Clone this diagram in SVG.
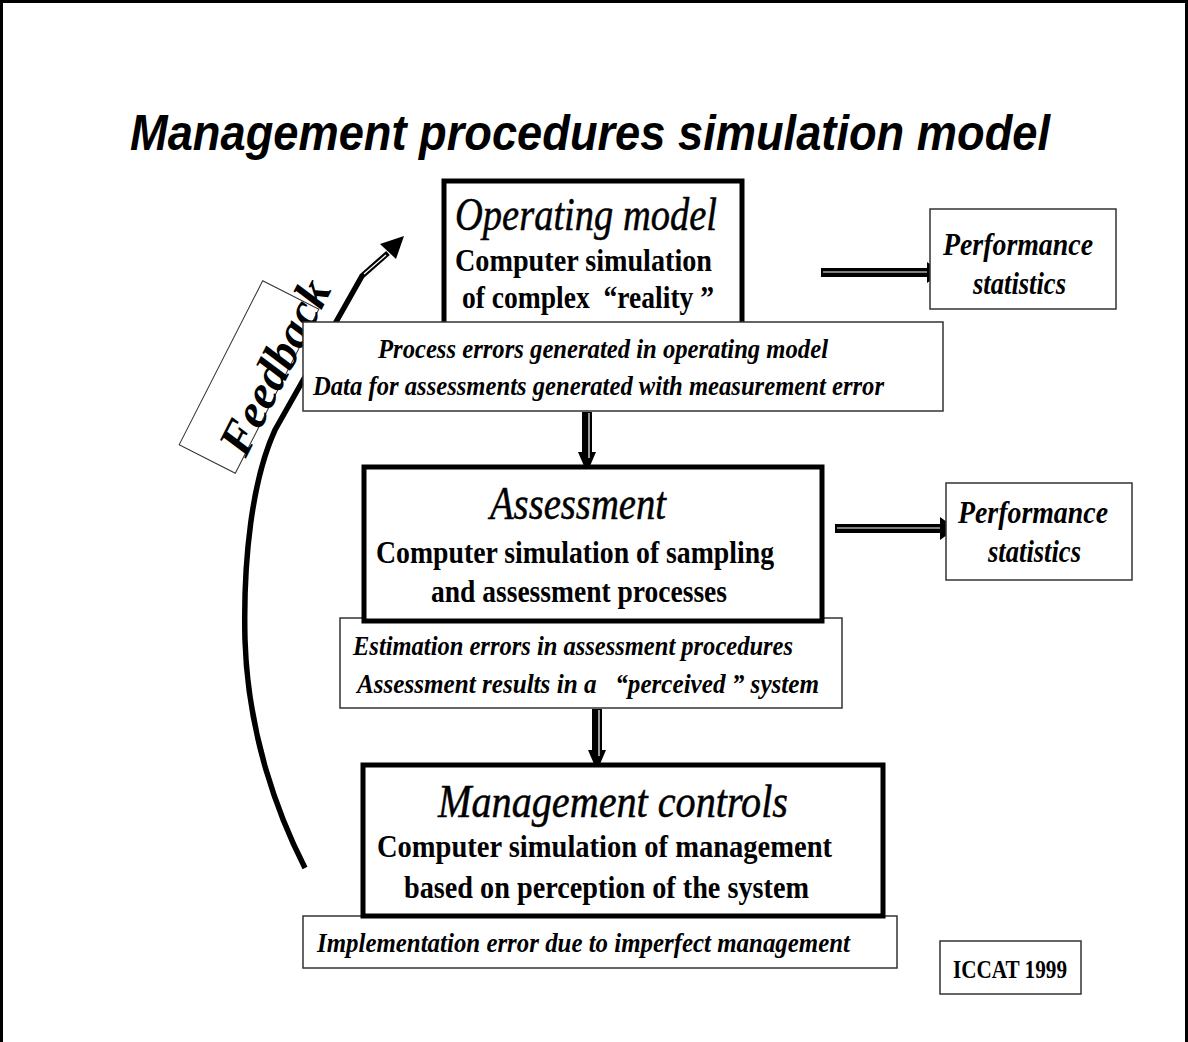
<svg xmlns="http://www.w3.org/2000/svg" width="1188" height="1042" viewBox="0 0 1188 1042">
<style>
.thick{fill:#fff;stroke:#000;stroke-width:5}
.thin{fill:#fff;stroke:#333;stroke-width:1.5}
.serif{font-family:"Liberation Serif","Times New Roman",serif;fill:#000}
.hd{font-size:46px;font-style:italic;stroke:#000;stroke-width:0.5}
.bd{font-size:32px;font-weight:bold}
.ei{font-size:28px;font-weight:bold;font-style:italic}
.ps{font-size:31px;font-weight:bold;font-style:italic}
.arr{fill:#000}
.hl{stroke:#fff;stroke-width:1.2}
</style>
<rect width="1188" height="1042" fill="#fff"/>
<path d="M1.5,1042 V1.5 H1186.5 V1042" fill="none" stroke="#000" stroke-width="3"/>
<g id="title">
<text x="130" y="150" textLength="920" lengthAdjust="spacingAndGlyphs" style="font-family:'Liberation Sans',Arial,sans-serif;font-size:50px;font-weight:bold;font-style:italic">Management procedures simulation model</text>
</g>
<g id="feedback-label">
<rect x="-92" y="-31.5" width="184" height="63" transform="translate(249,377) rotate(-63)" fill="none" stroke="#333" stroke-width="1"/>
<text class="serif" transform="translate(289,374) rotate(-63)" text-anchor="middle" textLength="190" lengthAdjust="spacingAndGlyphs" style="font-size:48px;font-weight:bold;font-style:italic">Feedback</text>
</g>
<g id="connectors">
<path d="M305,868 C278,815 248,735 245,640 C243,560 252,480 275,430 L362,276 L388,253" fill="none" stroke="#000" stroke-width="5.5"/>
<line x1="364" y1="274" x2="386" y2="255" class="hl"/>
<polygon points="404,236 396,259 380,244" class="arr"/>
<polygon points="821,268 927,268 927,262 942,272.5 927,283 927,277 821,277" class="arr"/>
<line x1="823" y1="272" x2="927" y2="272" class="hl"/>
<polygon points="835,524 940,524 940,517 956,528.5 940,540 940,533 835,533" class="arr"/>
<line x1="837" y1="528" x2="940" y2="528" class="hl"/>
<polygon points="582,412 592,412 592,452 596,452 587,473 578,452 582,452" class="arr"/>
<line x1="589" y1="413" x2="589" y2="458" class="hl"/>
<polygon points="592,709 602,709 602,750 606,750 597,771 588,750 592,750" class="arr"/>
<line x1="599" y1="710" x2="599" y2="756" class="hl"/>
</g>
<g id="operating-model">
<rect x="444" y="181" width="298" height="150" class="thick"/>
<text class="serif hd" x="455" y="230" textLength="262" lengthAdjust="spacingAndGlyphs">Operating model</text>
<text class="serif bd" x="455" y="271" textLength="257" lengthAdjust="spacingAndGlyphs">Computer simulation</text>
<text class="serif bd" x="462" y="308" textLength="252" lengthAdjust="spacingAndGlyphs" xml:space="preserve">of complex  “reality ”</text>
</g>
<g id="process-errors">
<rect x="303" y="322" width="640" height="89" class="thin"/>
<text class="serif ei" x="378" y="358" textLength="450" lengthAdjust="spacingAndGlyphs">Process errors generated in operating model</text>
<text class="serif ei" x="313" y="395" textLength="571" lengthAdjust="spacingAndGlyphs">Data for assessments generated with measurement error</text>
</g>
<g id="performance-1">
<rect x="930" y="209" width="186" height="100" class="thin"/>
<text class="serif ps" x="943" y="255" textLength="150" lengthAdjust="spacingAndGlyphs">Performance</text>
<text class="serif ps" x="973" y="294" textLength="93" lengthAdjust="spacingAndGlyphs">statistics</text>
</g>
<g id="estimation-errors">
<rect x="340" y="618" width="502" height="90" class="thin"/>
<text class="serif ei" x="353" y="655" textLength="440" lengthAdjust="spacingAndGlyphs">Estimation errors in assessment procedures</text>
<text class="serif ei" x="357" y="693" textLength="462" lengthAdjust="spacingAndGlyphs" xml:space="preserve">Assessment results in a   “perceived ” system</text>
</g>
<g id="assessment">
<rect x="364" y="467" width="458" height="154" class="thick"/>
<text class="serif hd" x="490" y="519" textLength="176" lengthAdjust="spacingAndGlyphs">Assessment</text>
<text class="serif bd" x="376" y="563" textLength="398" lengthAdjust="spacingAndGlyphs">Computer simulation of sampling</text>
<text class="serif bd" x="431" y="602" textLength="296" lengthAdjust="spacingAndGlyphs">and assessment processes</text>
</g>
<g id="performance-2">
<rect x="946" y="483" width="186" height="97" class="thin"/>
<text class="serif ps" x="958" y="523" textLength="150" lengthAdjust="spacingAndGlyphs">Performance</text>
<text class="serif ps" x="988" y="562" textLength="93" lengthAdjust="spacingAndGlyphs">statistics</text>
</g>
<g id="implementation-error">
<rect x="303" y="916" width="594" height="52" class="thin"/>
<text class="serif ei" x="317" y="952" textLength="533" lengthAdjust="spacingAndGlyphs">Implementation error due to imperfect management</text>
</g>
<g id="management-controls">
<rect x="363" y="765" width="520" height="151" class="thick"/>
<text class="serif hd" x="438" y="817" textLength="350" lengthAdjust="spacingAndGlyphs">Management controls</text>
<text class="serif bd" x="377" y="857" textLength="455" lengthAdjust="spacingAndGlyphs">Computer simulation of management</text>
<text class="serif bd" x="404" y="898" textLength="405" lengthAdjust="spacingAndGlyphs">based on perception of the system</text>
</g>
<g id="iccat">
<rect x="940" y="941" width="141" height="53" class="thin"/>
<text class="serif" x="953" y="978" textLength="114" lengthAdjust="spacingAndGlyphs" style="font-size:25px;font-weight:bold">ICCAT 1999</text>
</g>
</svg>
